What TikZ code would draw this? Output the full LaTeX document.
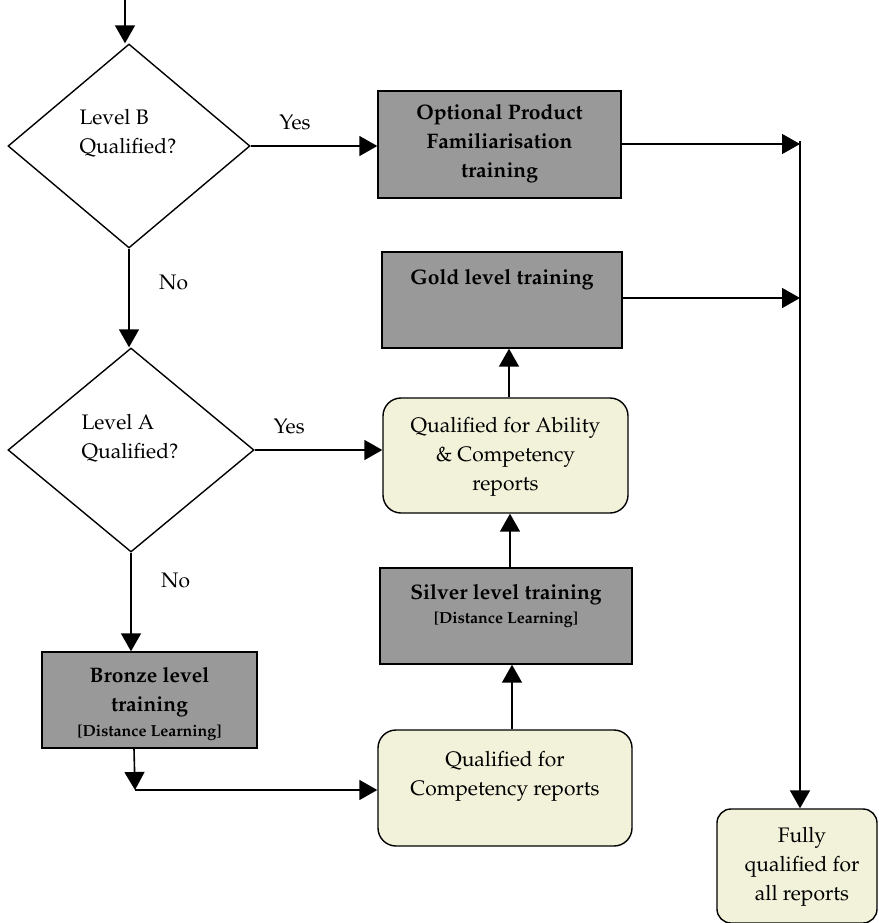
\documentclass[tikz,border=0pt]{standalone}
\usepackage[T1]{fontenc}
\usepackage{mathpazo}
\usetikzlibrary{shapes.geometric,arrows.meta}
\definecolor{boxgray}{HTML}{999999}
\definecolor{cream}{HTML}{F2F2DA}
\begin{document}
\begin{tikzpicture}[x=1pt,y=-1pt,
  every node/.style={font=\fontsize{21}{29}\selectfont},
  conn/.style={line width=1.6pt,-{Triangle[length=18pt,width=20pt]}},
  plain/.style={line width=1.6pt},
  decision/.style={draw,line width=1.4pt,diamond,inner sep=0pt},
  graybox/.style={draw,line width=1.4pt,fill=boxgray,rectangle,inner sep=0pt},
  creambox/.style={draw,line width=1.4pt,fill=cream,rectangle,rounded corners=18pt,inner sep=0pt},
  boldtxt/.style={font=\fontsize{21}{29}\selectfont\bfseries,align=center},
  smalltxt/.style={font=\fontsize{16}{18}\selectfont\bfseries,align=center},
  regtxt/.style={font=\fontsize{21}{29}\selectfont,align=center},
  lbl/.style={font=\fontsize{21}{24}\selectfont}]
\useasboundingbox (0,0) rectangle (878,923);

% diamonds
\node[decision,minimum width=242pt,minimum height=204pt] (dB) at (129,146) {};
\node[regtxt,align=left] (dBt) at (128,133) {Level B\\ Qualified?};
\node[decision,minimum width=246pt,minimum height=204pt] (dA) at (131,450) {};
\node[regtxt,align=left] (dAt) at (130,438) {Level A\\ Qualified?};

% gray boxes
\node[graybox,minimum width=243pt,minimum height=107pt] (opt) at (499.5,144.5) {};
\node[boldtxt] (optt) at (499.5,144) {Optional Product\\ Familiarisation\\ training};
\node[graybox,minimum width=240pt,minimum height=96pt] (gold) at (502,300) {};
\node[boldtxt] (goldt) at (502,280) {Gold level training};
\node[graybox,minimum width=252pt,minimum height=96pt] (silver) at (506,616) {};
\node[boldtxt] (silvert) at (506,595) {Silver level training};
\node[smalltxt] (silvers) at (506,620) {[Distance Learning]};
\node[graybox,minimum width=215pt,minimum height=96pt] (bronze) at (149.5,700) {};
\node[boldtxt] (bronzet) at (149.5,692) {Bronze level\\ training};
\node[smalltxt] (bronzes) at (149.5,733) {[Distance Learning]};

% cream boxes
\node[creambox,minimum width=245pt,minimum height=115pt] (ac) at (505.5,455.5) {};
\node[regtxt] (act) at (505.5,457) {Qualified for Ability\\ \& Competency\\ reports};
\node[creambox,minimum width=254pt,minimum height=116pt] (comp) at (505,788) {};
\node[regtxt] (compt) at (505,776) {Qualified for\\ Competency reports};
\node[creambox,rounded corners=14pt,minimum width=160pt,minimum height=114pt] (full) at (797,866) {};
\node[regtxt] (fullt) at (802,867) {Fully\\ qualified for\\ all reports};

% coordinates
\coordinate (start) at (125,0);
\coordinate (bustop) at (800,141);
\coordinate (busA) at (800,144);
\coordinate (busB) at (800,298);
\coordinate (bend) at (135,790);

% connectors
\draw[conn] (start) -- (start |- dB.north);
\draw[conn] (dB.east) -- node[lbl,above=12pt,pos=0.35] (yesB) {Yes} (opt.west |- dB.east);
\draw[conn] (dB.south) -- node[lbl,right=26pt,pos=0.34] (noB) {No} (dA.north -| dB.south);
\draw[conn] (opt.east |- busA) -- (busA);
\draw[conn] (gold.east |- busB) -- (busB);
\draw[conn] (ac.north -| 509,0) -- (gold.south -| 509,0);
\draw[conn] (dA.east) -- node[lbl,above=12pt,pos=0.27] (yesA) {Yes} (ac.west |- dA.east);
\draw[conn] (silver.north -| 510,0) -- (ac.south -| 510,0);
\draw[conn] (dA.south -| 131,0) -- node[lbl,right=26pt,pos=0.28] (noA) {No} (bronze.north -| 131,0);
\draw[conn] (bronze.south -| 134,0) -- (bend);
\draw[conn] (bend) -- (comp.west |- bend);
\draw[conn] (comp.north -| 512,0) -- (silver.south -| 512,0);
\draw[plain] (bustop) -- (800,700);
\draw[conn] (800,690) -- (full.north -| 800,0);
\end{tikzpicture}
\end{document}
